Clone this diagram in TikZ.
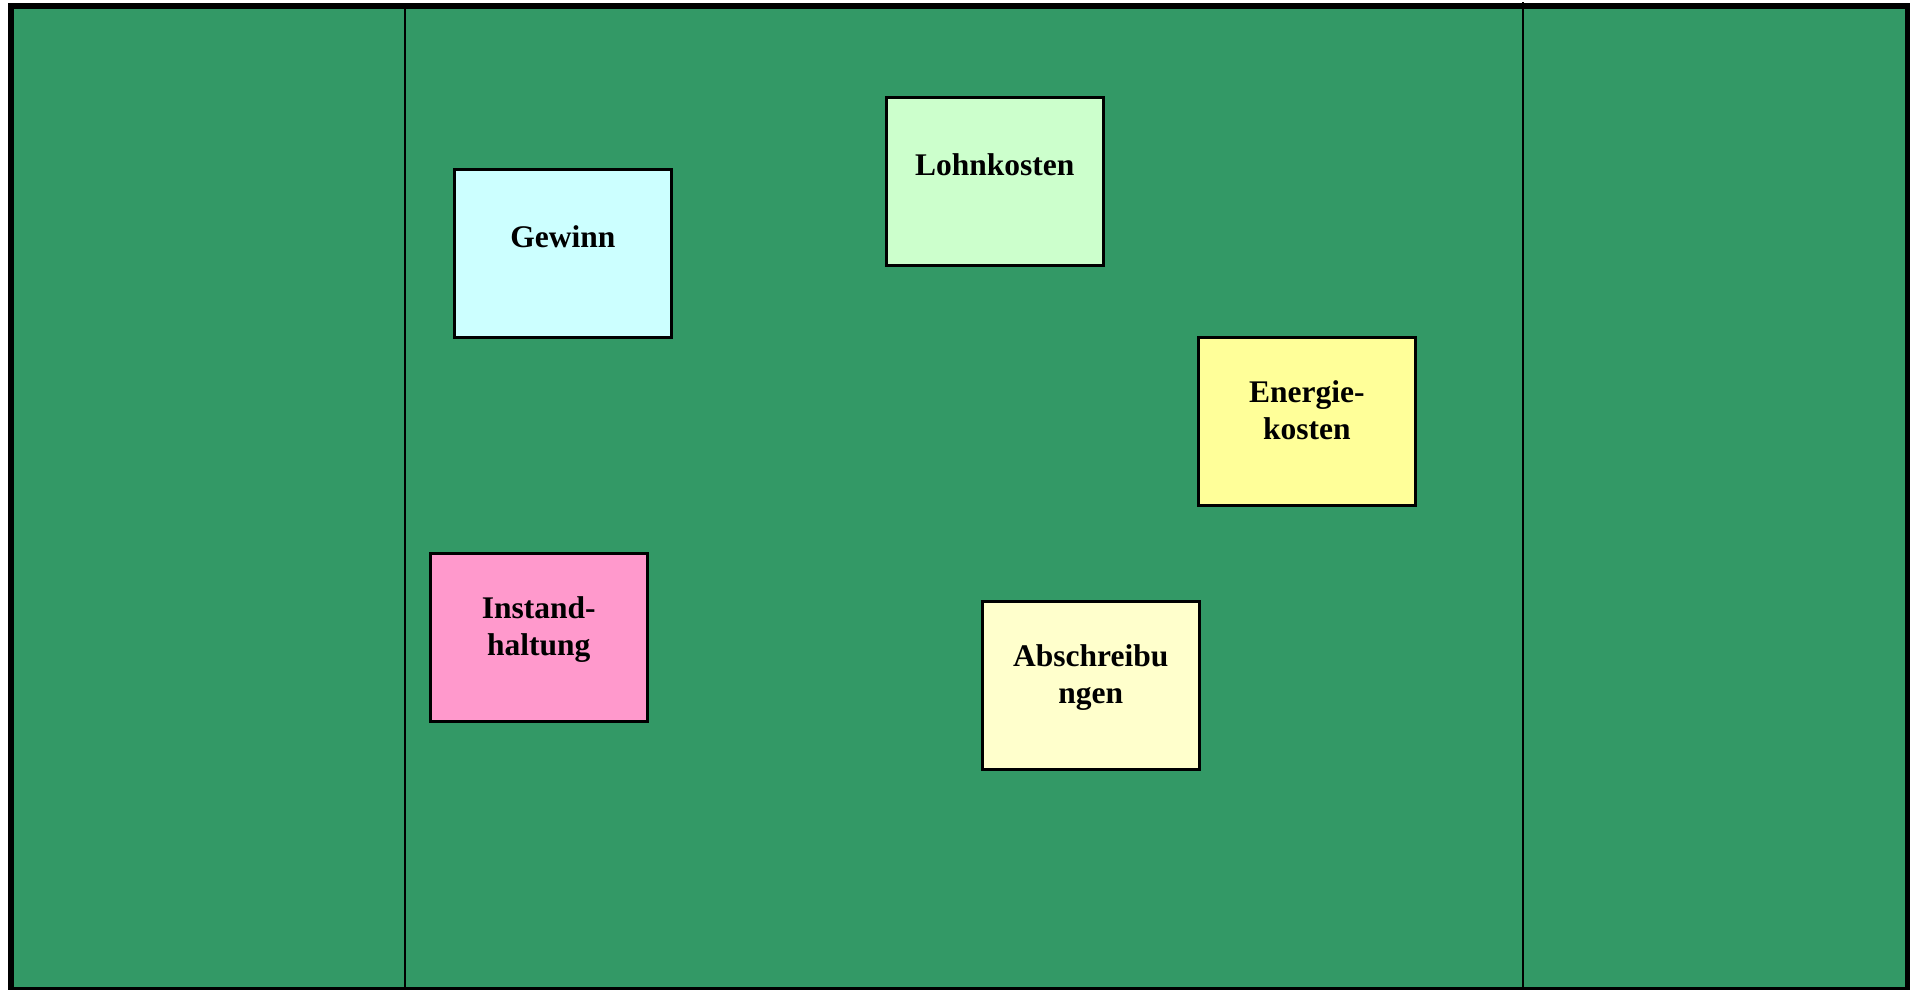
\documentclass[tikz,border=0pt]{standalone}
\usepackage{fontspec}
\setmainfont{Liberation Serif}
\usetikzlibrary{calc}
\definecolor{bggreen}{HTML}{339966}
\definecolor{cgewinn}{HTML}{CCFFFF}
\definecolor{clohn}{HTML}{CCFFCC}
\definecolor{cenergie}{HTML}{FFFF99}
\definecolor{cinstand}{HTML}{FF99CC}
\definecolor{cabschr}{HTML}{FFFFCC}
\tikzset{
  card/.style={draw=black, line width=2.6pt, minimum width=217pt, minimum height=168pt, inner sep=0pt, anchor=north west},
  lbl/.style={font=\fontsize{31.5}{37}\selectfont\bfseries, align=center, inner sep=0pt, anchor=base},
  divider/.style={draw=black, line width=2.2pt}
}
\begin{document}
\begin{tikzpicture}[x=1pt,y=-1pt]
\useasboundingbox (0,0) rectangle (1910,989);
\fill[white] (0,0) rectangle (1910,989);
\fill[bggreen] (11,6) rectangle (1908,990);
\draw[line width=6pt] (11,6) rectangle (1908,990);
\coordinate (dlt) at (405,6);
\coordinate (dlb) at (405,989);
\coordinate (drt) at (1523,2);
\coordinate (drb) at (1523,989);
\draw[divider] (dlt) -- (dlb);
\draw[divider] (drt) -- (drb);

\node[card, fill=cgewinn] (gewinn) at (453,168) {};
\node[lbl] (tgewinn) at ($(gewinn.north)+(0,79)$) {Gewinn};

\node[card, fill=clohn] (lohn) at (885,96) {};
\node[lbl] (tlohn) at ($(lohn.north)+(0,79)$) {Lohnkosten};

\node[card, fill=cenergie] (energie) at (1197,336) {};
\node[lbl] (tenergie) at ($(energie.north)+(0,103)$) {Energie-\\kosten};

\node[card, fill=cinstand] (instand) at (429,552) {};
\node[lbl] (tinstand) at ($(instand.north)+(0,103)$) {Instand-\\haltung};

\node[card, fill=cabschr] (abschr) at (981,600) {};
\node[lbl] (tabschr) at ($(abschr.north)+(0,103)$) {Abschreibu\\ngen};
\end{tikzpicture}
\end{document}
